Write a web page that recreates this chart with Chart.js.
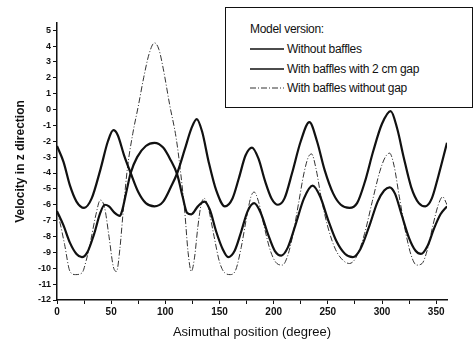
<!DOCTYPE html>
<html>
<head>
<meta charset="utf-8">
<script src="https://cdn.jsdelivr.net/npm/chart.js@4/dist/chart.umd.min.js"></script>
<style>
  html, body { margin: 0; padding: 0; background: #fff; }
  #wrap { position: relative; width: 474px; height: 347px; }
  #legend {
    position: absolute; left: 225px; top: 7px; width: 246px; height: 99px;
    border: 1px solid #111; background: #fff;
    font-family: "Liberation Sans", Arial, sans-serif; font-size: 12px; color: #111;
    letter-spacing: -0.3px;
  }
  #legend .title { position: absolute; left: 24px; top: 14px; }
  #legend .row { position: absolute; left: 24px; height: 14px; display: flex; align-items: center; }
  #legend svg { margin-right: 3px; }
</style>
</head>
<body>
<div id="wrap">
  <canvas id="c" width="474" height="347"></canvas>
  <div id="legend"></div>
</div>
<script>
// ---- Data ----
const legendTitle = "Model version:";
const seriesNames = ["Without baffles", "With baffles with 2 cm gap", "With baffles without gap"];

const anglesWithout = [0,6,12,18,25,32,40,47,52,56,62,68,75,82,90,98,105,111,118,124,129,134,140,147,155,162,168,174,180,186,192,198,204,210,217,225,233,240,247,255,262,270,277,284,292,300,308,314,320,327,334,340,346,352,360];
const valuesWithout = [-2.3,-3.3,-4.8,-5.8,-6.2,-5.6,-3.8,-2.0,-1.3,-1.6,-2.9,-4.0,-5.2,-5.9,-6.1,-5.8,-4.9,-4.0,-2.5,-1.2,-0.6,-1.4,-3.3,-5.1,-6.1,-5.6,-4.3,-2.9,-2.4,-3.1,-4.5,-5.6,-6.0,-5.6,-4.0,-2.0,-0.8,-2.0,-3.8,-5.3,-6.0,-6.2,-5.9,-4.6,-2.6,-0.9,-0.1,-1.2,-3.0,-4.9,-5.9,-6.1,-5.6,-4.2,-2.1];

const anglesGap = [0,6,12,18,23,28,34,40,44,48,53,58,60,64,68,74,82,90,98,105,111,116,120,124,130,136,141,147,153,158,164,170,176,182,188,195,201,207,213,220,228,236,243,250,258,266,273,280,288,296,302,307,312,318,325,331,336,342,348,354,360];
const valuesGap = [-6.4,-7.3,-8.4,-9.1,-9.3,-9.0,-7.9,-6.5,-6.0,-6.1,-6.5,-6.7,-6.4,-5.2,-4.0,-3.0,-2.3,-2.1,-2.4,-3.2,-4.1,-5.5,-6.5,-6.6,-6.1,-5.8,-6.3,-7.7,-8.8,-9.3,-8.9,-7.7,-6.4,-5.9,-6.5,-7.9,-8.9,-9.2,-8.7,-7.3,-5.6,-4.8,-5.5,-6.9,-8.3,-9.1,-9.3,-8.8,-7.4,-5.8,-5.1,-4.9,-5.3,-6.6,-8.1,-8.9,-9.1,-8.6,-7.5,-6.6,-6.1];

const anglesNoGap = [0,3,7,12,17,23,27,31,36,40,44,48,52,55,58,61,65,70,75,80,85,90,94,98,104,110,114,118,121,124,127,130,133,136,140,145,150,155,160,165,170,175,179,182,186,191,197,203,208,213,218,223,228,232,235,239,244,250,257,264,270,277,284,291,298,303,307,311,316,322,327,332,337,342,347,352,356,360];
const valuesNoGap = [-6.4,-7.2,-8.5,-10.2,-10.4,-10.3,-9.5,-8.3,-6.6,-5.7,-6.2,-8.0,-9.9,-10.2,-8.8,-6.5,-3.7,-1.5,0.2,2.0,3.5,4.2,3.8,2.6,0.3,-1.8,-3.9,-6.5,-9.0,-10.2,-9.3,-7.4,-6.0,-5.6,-6.3,-8.0,-9.6,-10.3,-10.4,-10.1,-8.7,-6.8,-5.5,-5.2,-5.8,-7.3,-8.9,-9.7,-9.8,-9.2,-7.8,-5.9,-4.0,-3.0,-2.8,-3.7,-5.6,-7.4,-8.8,-9.5,-9.7,-9.2,-7.8,-5.8,-3.9,-3.0,-2.75,-3.5,-5.5,-7.8,-9.2,-9.8,-9.7,-8.8,-7.3,-6.0,-5.5,-6.0];

const xTickStep = 25;   // labelled every 50
const yTickStep = 1;

// ---- Build chart ----
const toXY = (xs, ys) => xs.map((x, i) => ({ x: x, y: ys[i] }));
const ink = '#111';
const fontFamily = '"Liberation Sans", Arial, sans-serif';

const datasets = [
  { label: seriesNames[0], data: toXY(anglesWithout, valuesWithout), borderColor: ink, borderWidth: 2.2, dash: [] },
  { label: seriesNames[1], data: toXY(anglesGap, valuesGap), borderColor: ink, borderWidth: 2.2, dash: [] },
  { label: seriesNames[2], data: toXY(anglesNoGap, valuesNoGap), borderColor: '#333', borderWidth: 1, dash: [6, 2, 1, 2] }
].map(d => ({
  label: d.label, data: d.data, borderColor: d.borderColor, borderWidth: d.borderWidth,
  borderDash: d.dash, pointRadius: 0, fill: false, cubicInterpolationMode: 'monotone'
}));

const chart = new Chart(document.getElementById('c'), {
  type: 'line',
  data: { datasets: datasets },
  options: {
    responsive: false,
    animation: false,
    layout: { padding: { left: 0, right: 27, top: 23, bottom: 0 } },
    plugins: { legend: { display: false }, tooltip: { enabled: false } },
    scales: {
      x: {
        type: 'linear', min: 0, max: 360,
        afterFit: s => { s.height = 47; },
        border: { color: ink, width: 1.5 },
        grid: { drawOnChartArea: false, drawTicks: true, tickLength: 4, color: ink, tickWidth: 1 },
        ticks: {
          stepSize: xTickStep, includeBounds: false, autoSkip: false, maxRotation: 0, padding: 2,
          color: ink, font: { family: fontFamily, size: 10, weight: 'bold' },
          callback: v => (v % 50 === 0 ? String(v) : '')
        },
        title: { display: true, text: 'Asimuthal position (degree)', color: ink,
                 font: { family: fontFamily, size: 13 }, padding: { top: 0, bottom: 7 } }
      },
      y: {
        type: 'linear', min: -12, max: 5.45,
        afterFit: s => { s.width = 57; },
        border: { color: ink, width: 1.5 },
        grid: { drawOnChartArea: false, drawTicks: true, tickLength: 4, color: ink, tickWidth: 1 },
        ticks: {
          stepSize: yTickStep, includeBounds: false, autoSkip: false, padding: 2,
          color: ink, font: { family: fontFamily, size: 9, weight: 'bold' }
        },
        title: { display: true, text: 'Velocity in z direction', color: ink,
                 font: { family: fontFamily, size: 12, weight: 'bold' }, padding: { top: 13, bottom: 0 } }
      }
    }
  }
});

// ---- HTML legend built from the datasets ----
const legend = document.getElementById('legend');
const t = document.createElement('div');
t.className = 'title'; t.textContent = legendTitle;
legend.appendChild(t);
const rowTops = [34, 54, 73];
chart.data.datasets.forEach((ds, i) => {
  const row = document.createElement('div');
  row.className = 'row';
  row.style.top = rowTops[i] + 'px';
  const svgNS = 'http://www.w3.org/2000/svg';
  const svg = document.createElementNS(svgNS, 'svg');
  svg.setAttribute('width', '34'); svg.setAttribute('height', '4');
  const ln = document.createElementNS(svgNS, 'line');
  ln.setAttribute('x1', '0'); ln.setAttribute('x2', '34');
  ln.setAttribute('y1', '2'); ln.setAttribute('y2', '2');
  ln.setAttribute('stroke', ds.borderColor);
  ln.setAttribute('stroke-width', String(Math.min(ds.borderWidth, 1.6)));
  if (ds.borderDash && ds.borderDash.length) ln.setAttribute('stroke-dasharray', ds.borderDash.join(' '));
  svg.appendChild(ln);
  row.appendChild(svg);
  const span = document.createElement('span');
  span.textContent = ds.label;
  row.appendChild(span);
  legend.appendChild(row);
});
</script>
</body>
</html>
